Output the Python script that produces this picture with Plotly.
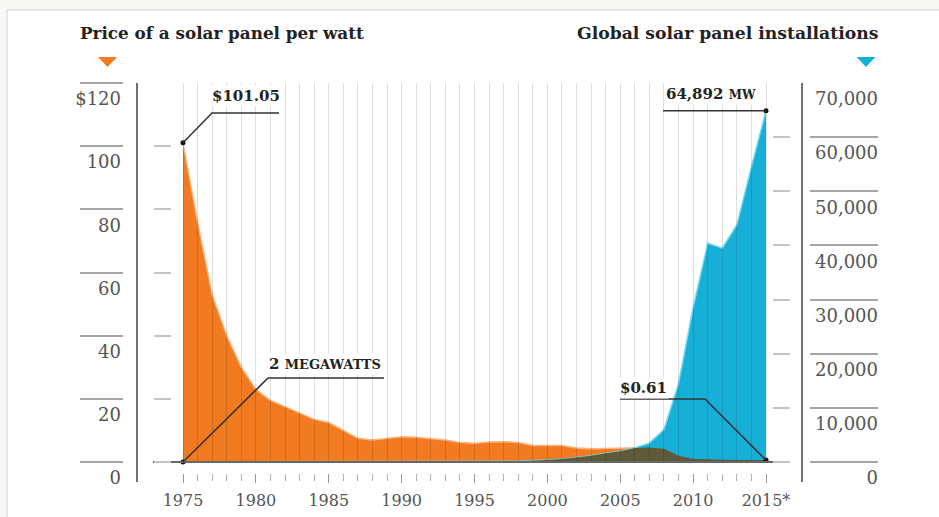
import plotly.graph_objects as go

# ---------------- data ----------------
YEARS = list(range(1975, 2016))
PRICE = [101.05, 76, 53, 40, 30, 23, 19.5, 17.5, 15.5, 13.5,
         12.5, 10, 7.5, 7.0, 7.5, 8.0, 7.8, 7.5, 7.0, 6.2,
         5.9, 6.3, 6.4, 6.2, 5.2, 5.2, 5.2, 4.4, 4.2, 4.3,
         4.4, 4.5, 4.6, 4.2, 2.0, 1.0, 0.75, 0.7, 0.65, 0.63, 0.61]
INSTALLS = [2, 2, 3, 5, 7, 10, 13, 17, 22, 25,
            30, 35, 40, 45, 50, 55, 60, 65, 70, 75,
            80, 90, 125, 155, 200, 350, 550, 800, 1150, 1600,
            2000, 2600, 3500, 6000, 14500, 28500, 40400, 39500, 43800, 54500, 64892]
LABEL_YEARS = [1975, 1980, 1985, 1990, 1995, 2000, 2005, 2010, 2015]
LABEL_TEXT = ["1975", "1980", "1985", "1990", "1995", "2000", "2005", "2010", "2015*"]
LEFT_TICKS = [0, 20, 40, 60, 80, 100, 120]
LEFT_TEXT = ["0", "20", "40", "60", "80", "100", "$120"]
RIGHT_TICKS = [0, 10000, 20000, 30000, 40000, 50000, 60000, 70000]
RIGHT_TEXT = ["0", "10,000", "20,000", "30,000", "40,000", "50,000", "60,000", "70,000"]
LEFT_MAX = 120
RIGHT_MAX = 70000

# ---------------- geometry ----------------
W, H = 939, 517
L, R, T, B = 60, 40, 83, 20
PW = W - L - R
PH = H - T - B
BASE_Y = 462        # pixel row of value 0
TOP_Y = 83          # pixel row of the axis maxima
AXIS_BOTTOM = 482   # where the vertical frame lines end
X_FIRST = 183
PX_YEAR = 14.575


def px(x):
    return (x - L) / PW


def py(y):
    return (H - B - y) / PH


def year_at(x):
    return YEARS[0] + (x - X_FIRST) / PX_YEAR


def price_at(y):
    return (BASE_Y - y) / (BASE_Y - TOP_Y) * LEFT_MAX


def inst_at(y):
    return (BASE_Y - y) / (BASE_Y - TOP_Y) * RIGHT_MAX


x_range = [year_at(153), year_at(790)]
pad = (AXIS_BOTTOM - BASE_Y) / (BASE_Y - TOP_Y)
y_range = [-pad * LEFT_MAX, LEFT_MAX]
y2_range = [-pad * RIGHT_MAX, RIGHT_MAX]
pad_full = (H - B - BASE_Y) / (BASE_Y - TOP_Y)
y9_range = [-pad_full * RIGHT_MAX, RIGHT_MAX]
K = RIGHT_MAX / LEFT_MAX

SERIF = "DejaVu Serif"
ORANGE = "#F27A21"
BLUE = "#17AFD7"
DARK = "#5F5A3A"
TXT = "#555555"

overlap = [min(i, p * K) for i, p in zip(INSTALLS, PRICE)]

fig = go.Figure()
fig.add_trace(go.Scatter(x=YEARS, y=PRICE, mode="lines", fill="tozeroy",
                         line=dict(color="#F9B47C", width=1.5), fillcolor=ORANGE,
                         xaxis="x", yaxis="y", hoverinfo="skip", showlegend=False))
fig.add_trace(go.Scatter(x=YEARS, y=INSTALLS, mode="lines", fill="tozeroy",
                         line=dict(color="#74D8EE", width=1.5), fillcolor=BLUE,
                         xaxis="x", yaxis="y2", hoverinfo="skip", showlegend=False))
fig.add_trace(go.Scatter(x=YEARS, y=overlap, mode="lines", fill="tozeroy",
                         line=dict(color=DARK, width=0), fillcolor=DARK,
                         xaxis="x", yaxis="y2", hoverinfo="skip", showlegend=False))
fig.add_trace(go.Scatter(x=[YEARS[0], YEARS[-1], YEARS[0], YEARS[-1]],
                         y=[PRICE[0] * K, INSTALLS[-1], INSTALLS[0], PRICE[-1] * K],
                         mode="markers", marker=dict(color="#111", size=5),
                         xaxis="x", yaxis="y2", hoverinfo="skip", showlegend=False))

# empty helper traces so that every decorative axis gets its own subplot
for ya in ["y3", "y4", "y5", "y6", "y7", "y8", "y9"]:
    fig.add_trace(go.Scatter(x=[None], y=[None], mode="lines", xaxis="x", yaxis=ya,
                             hoverinfo="skip", showlegend=False))
fig.add_trace(go.Scatter(x=[None], y=[None], mode="lines", xaxis="x2", yaxis="y2",
                         hoverinfo="skip", showlegend=False))


def yover(pos, side, **kw):
    d = dict(overlaying="y", anchor="free", position=pos, side=side, range=y_range,
             showgrid=False, zeroline=False, showticklabels=False, ticks="",
             showline=False, tickmode="array", tickvals=LEFT_TICKS, fixedrange=True,
             automargin=False)
    d.update(kw)
    return d


layout = dict(
    width=W, height=H,
    margin=dict(l=L, r=R, t=T, b=B, pad=0, autoexpand=False),
    paper_bgcolor="#f8f8f5", plot_bgcolor="rgba(0,0,0,0)",
    showlegend=False,
    xaxis=dict(domain=[px(153), px(790)], range=x_range, anchor="free", position=py(473),
               showgrid=False, zeroline=False, showline=False, automargin=False,
               tickmode="array", tickvals=LABEL_YEARS, ticktext=LABEL_TEXT,
               ticks="outside", ticklen=9, tickwidth=1.2, tickcolor="#9a9a9a",
               ticklabelstandoff=4,
               minor=dict(tickmode="array", tickvals=YEARS, ticks="outside", ticklen=7,
                          tickwidth=1, tickcolor="#b0b0b0"),
               tickfont=dict(family=SERIF, size=16, color=TXT), fixedrange=True),
    xaxis2=dict(overlaying="x", range=x_range, anchor="free", position=py(BASE_Y),
                showgrid=False, zeroline=False, showline=True, linecolor="#666", linewidth=2,
                tickmode="array", tickvals=YEARS, ticks="inside", ticklen=BASE_Y - 84,
                tickwidth=1, tickcolor="rgba(0,0,0,0.13)", showticklabels=False,
                layer="above traces", fixedrange=True, automargin=False),
    yaxis=dict(domain=[py(AXIS_BOTTOM), 1], range=y_range, anchor="free", position=px(121),
               side="left", showgrid=False, zeroline=False, showline=False, ticks="",
               automargin=False, tickmode="array", tickvals=LEFT_TICKS, ticktext=LEFT_TEXT,
               ticklabelshift=16,
               tickfont=dict(family=SERIF, size=18, color=TXT), fixedrange=True),
    yaxis2=dict(overlaying="y", range=y2_range, anchor="free", position=px(881), side="right",
                showgrid=False, zeroline=False, showline=False, ticks="", automargin=False,
                showticklabels=False, fixedrange=True),
    yaxis3=yover(px(123), "left", ticks="outside", ticklen=43, tickwidth=1.5, tickcolor="#a5a5a5"),
    yaxis4=yover(px(137), "left", showline=True, linecolor="#707070", linewidth=1.5),
    yaxis5=yover(px(153), "left", ticks="inside", ticklen=17, tickwidth=1.5, tickcolor="#c4c4c4"),
    yaxis6=yover(px(878), "right", range=y2_range, tickvals=RIGHT_TICKS,
                 ticks="inside", ticklen=68, tickwidth=1.5, tickcolor="#a5a5a5"),
    yaxis7=yover(px(802), "right", showline=True, linecolor="#707070", linewidth=1.5),
    yaxis8=yover(px(790), "right", range=y2_range, tickvals=RIGHT_TICKS,
                 ticks="inside", ticklen=17, tickwidth=1.5, tickcolor="#c4c4c4"),
    # right-hand tick labels: own (taller) domain so the "0" label is not clipped
    yaxis9=dict(domain=[0, 1], range=y9_range, anchor="free", position=px(881), side="right",
                showgrid=False, zeroline=False, showline=False, ticks="", automargin=False,
                tickmode="array", tickvals=RIGHT_TICKS, ticktext=RIGHT_TEXT,
                ticklabelposition="inside", ticklabelshift=16,
                tickfont=dict(family=SERIF, size=18, color=TXT), fixedrange=True),
)

shapes = [
    dict(type="rect", xref="paper", yref="paper", x0=px(7), x1=px(960), y0=py(10), y1=py(540),
         fillcolor="white", line=dict(color="#d0d0d0", width=1), layer="below"),
    dict(type="path", xref="paper", yref="paper",
         path=f"M {px(98)},{py(57)} L {px(117)},{py(57)} L {px(107.5)},{py(67)} Z",
         fillcolor=ORANGE, line=dict(width=0)),
    dict(type="path", xref="paper", yref="paper",
         path=f"M {px(856.5)},{py(57)} L {px(875.5)},{py(57)} L {px(866)},{py(67)} Z",
         fillcolor=BLUE, line=dict(width=0)),
    # leader lines
    dict(type="path", xref="x", yref="y", layer="above",
         path=f"M {YEARS[0]},{PRICE[0]} L {year_at(212)},{price_at(113)} L {year_at(279)},{price_at(113)}",
         line=dict(color="#333", width=1.5)),
    dict(type="path", xref="x", yref="y2", layer="above",
         path=f"M {year_at(663)},{INSTALLS[-1]} L {YEARS[-1]},{INSTALLS[-1]}",
         line=dict(color="#333", width=1.5)),
    dict(type="path", xref="x", yref="y2", layer="above",
         path=f"M {YEARS[0]},{INSTALLS[0]} L {year_at(268)},{inst_at(378)} L {year_at(384)},{inst_at(378)}",
         line=dict(color="#333", width=1.5)),
    dict(type="path", xref="x", yref="y", layer="above",
         path=f"M {year_at(620)},{price_at(399)} L {year_at(705)},{price_at(399)} L {YEARS[-1]},{PRICE[-1]}",
         line=dict(color="#333", width=1.5)),
]

ann_font = dict(family=SERIF, size=15, color="#222")
annotations = [
    dict(xref="paper", yref="paper", x=px(78), y=py(33), xanchor="left", yanchor="middle",
         text="<b>Price of a solar panel per watt</b>", showarrow=False,
         font=dict(family=SERIF, size=16.8, color="#222")),
    dict(xref="paper", yref="paper", x=px(880), y=py(33), xanchor="right", yanchor="middle",
         text="<b>Global solar panel installations</b>", showarrow=False,
         font=dict(family=SERIF, size=17.2, color="#222")),
    dict(xref="x", yref="y", x=year_at(246), y=price_at(96), xanchor="center", yanchor="middle",
         text=f"<b>${PRICE[0]:.2f}</b>", showarrow=False, bgcolor="white", font=ann_font),
    dict(xref="x", yref="y", x=year_at(711), y=price_at(94), xanchor="center", yanchor="middle",
         text=f"<b>{INSTALLS[-1]:,} <span style='font-size:12px'>MW</span></b>",
         showarrow=False, bgcolor="white", font=ann_font),
    dict(xref="x", yref="y", x=year_at(325), y=price_at(364), xanchor="center", yanchor="middle",
         text=f"<b>{INSTALLS[0]} <span style='font-size:13px'>MEGAWATTS</span></b>",
         showarrow=False, bgcolor="white", font=ann_font),
    dict(xref="x", yref="y", x=year_at(643), y=price_at(388), xanchor="center", yanchor="middle",
         text=f"<b>${PRICE[-1]:.2f}</b>", showarrow=False, bgcolor="white", font=ann_font),
]

layout["shapes"] = shapes
layout["annotations"] = annotations
fig.update_layout(**layout)
fig.write_html("out.html", config=dict(displayModeBar=False))
